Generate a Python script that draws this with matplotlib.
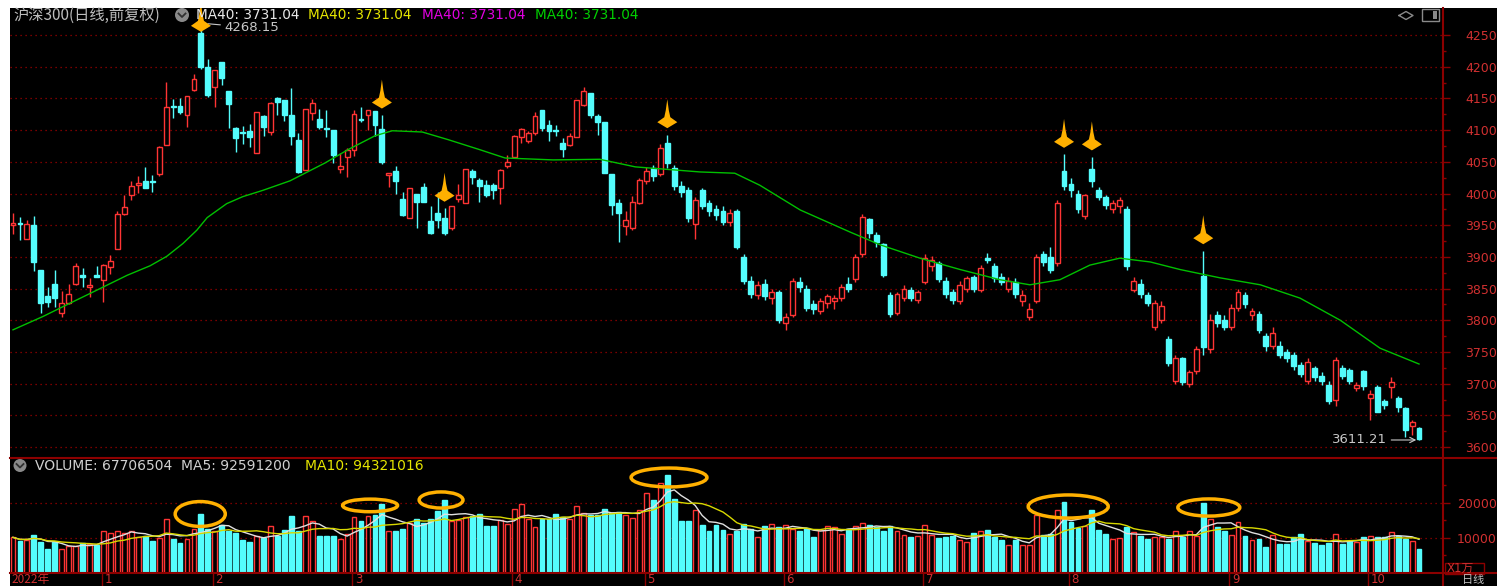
import numpy as np
import pandas as pd
import matplotlib
matplotlib.use('Agg')
import matplotlib.pyplot as plt
from matplotlib.patches import Polygon, Ellipse, Rectangle
from matplotlib.lines import Line2D
from matplotlib.ticker import FixedLocator

plt.rcParams['font.family'] = ['DejaVu Sans', 'Noto Sans CJK SC']

# daily candles, 2022-12 .. 2023-10 (o, h, l, c)
ohlc = [
    # Dec
    (3950, 3970, 3936, 3953), (3954, 3963, 3926, 3952), (3929, 3958, 3929, 3952), (3951, 3965, 3878, 3892),
    (3879, 3879, 3811, 3828), (3838, 3852, 3821, 3829), (3858, 3880, 3821, 3835), (3811, 3846, 3805, 3827),
    (3828, 3858, 3826, 3842), (3857, 3890, 3856, 3886), (3871, 3883, 3853, 3869), (3852, 3866, 3837, 3856),
    (3871, 3886, 3869, 3869),
    # Jan
    (3863, 3889, 3829, 3887), (3884, 3903, 3873, 3893), (3912, 3973, 3912, 3968), (3967, 3998, 3966, 3979),
    (3998, 4020, 3990, 4012), (4013, 4027, 4001, 4016), (4020, 4042, 4008, 4008), (4020, 4029, 4002, 4018),
    (4030, 4075, 4027, 4073), (4076, 4176, 4076, 4136), (4138, 4149, 4119, 4136), (4138, 4150, 4125, 4129),
    (4124, 4154, 4105, 4154), (4163, 4188, 4161, 4180), (4253, 4268.15, 4196, 4200), (4199, 4212, 4152, 4155),
    # Feb
    (4168, 4195, 4137, 4195), (4207, 4207, 4171, 4182), (4161, 4161, 4103, 4141), (4103, 4105, 4066, 4087),
    (4097, 4106, 4078, 4095), (4099, 4110, 4074, 4089), (4064, 4129, 4064, 4129), (4122, 4124, 4091, 4105),
    (4097, 4145, 4092, 4142), (4150, 4152, 4124, 4145), (4147, 4147, 4115, 4124), (4124, 4166, 4077, 4090),
    (4084, 4095, 4032, 4034), (4037, 4133, 4037, 4133), (4127, 4149, 4116, 4143), (4118, 4133, 4101, 4105),
    (4104, 4131, 4089, 4102), (4100, 4100, 4048, 4061), (4038, 4064, 4033, 4043), (4057, 4071, 4026, 4068),
    # Mar
    (4069, 4132, 4059, 4126), (4118, 4136, 4113, 4116), (4124, 4131, 4100, 4131), (4130, 4130, 4090, 4108),
    (4102, 4124, 4047, 4049), (4029, 4033, 4011, 4033), (4035, 4044, 4000, 4019), (3991, 4003, 3965, 3966),
    (3961, 4008, 3961, 4008), (4000, 4000, 3945, 3986), (4011, 4017, 3986, 3986), (3956, 3980, 3936, 3937),
    (3970, 4003, 3945, 3958), (3961, 3977, 3935, 3938), (3945, 3981, 3942, 3981), (3992, 4015, 3987, 3998),
    (3985, 4038, 3985, 4038), (4035, 4038, 4015, 4026), (4021, 4024, 3986, 4012), (4014, 4022, 3994, 3998),
    (4013, 4016, 3992, 4005), (4008, 4038, 3983, 4037), (4043, 4061, 4040, 4050),
    # Apr
    (4058, 4093, 4058, 4090), (4089, 4103, 4079, 4101), (4083, 4098, 4080, 4096), (4096, 4129, 4092, 4122),
    (4132, 4132, 4098, 4103), (4108, 4116, 4083, 4099), (4100, 4108, 4091, 4099), (4080, 4087, 4058, 4070),
    (4077, 4096, 4075, 4091), (4089, 4148, 4089, 4148), (4140, 4168, 4138, 4161), (4158, 4158, 4119, 4124),
    (4122, 4125, 4092, 4113), (4113, 4113, 4032, 4032), (4031, 4031, 3966, 3982), (3985, 3991, 3924, 3969),
    (3949, 3973, 3935, 3958), (3945, 3996, 3942, 3986), (3985, 4025, 3983, 4021),
    # May
    (4020, 4042, 4015, 4035), (4040, 4045, 4020, 4028), (4030, 4078, 4028, 4072), (4080, 4093, 4040, 4048),
    (4040, 4045, 4005, 4012), (4012, 4020, 3995, 4003), (4005, 4010, 3955, 3962), (3952, 3995, 3928, 3990),
    (4005, 4008, 3975, 3980), (3985, 3990, 3965, 3972), (3975, 3982, 3958, 3966), (3972, 3980, 3950, 3955),
    (3955, 3975, 3948, 3970), (3972, 3975, 3912, 3915), (3900, 3905, 3858, 3862), (3862, 3870, 3835, 3842),
    (3840, 3862, 3833, 3855), (3858, 3865, 3832, 3838), (3835, 3850, 3825, 3845), (3845, 3848, 3795, 3800),
    # Jun
    (3795, 3812, 3785, 3805), (3808, 3866, 3805, 3862), (3860, 3868, 3845, 3852), (3850, 3855, 3815, 3820),
    (3825, 3832, 3810, 3818), (3815, 3835, 3810, 3830), (3828, 3842, 3820, 3838), (3830, 3840, 3818, 3835),
    (3835, 3858, 3830, 3852), (3858, 3868, 3845, 3850), (3865, 3905, 3860, 3900), (3905, 3968, 3900, 3963),
    (3960, 3962, 3930, 3937), (3935, 3940, 3915, 3924), (3920, 3922, 3868, 3872), (3840, 3845, 3805, 3810),
    (3812, 3845, 3808, 3842), (3835, 3855, 3830, 3850), (3848, 3852, 3830, 3835), (3832, 3848, 3828, 3845),
    # Jul
    (3860, 3905, 3858, 3898), (3885, 3902, 3878, 3895), (3890, 3893, 3860, 3865), (3862, 3868, 3835, 3842),
    (3845, 3850, 3825, 3832), (3830, 3862, 3826, 3855), (3850, 3870, 3845, 3866), (3868, 3872, 3845, 3850),
    (3848, 3888, 3845, 3882), (3898, 3906, 3890, 3895), (3885, 3890, 3860, 3866), (3868, 3875, 3855, 3860),
    (3850, 3868, 3845, 3862), (3860, 3866, 3835, 3842), (3830, 3848, 3822, 3840), (3805, 3828, 3800, 3818),
    (3830, 3905, 3828, 3900), (3905, 3910, 3885, 3892), (3900, 3915, 3875, 3880), (3890, 3990, 3885, 3985),
    (4035, 4062, 4005, 4012),
    # Aug
    (4015, 4025, 3995, 4005), (4000, 4005, 3970, 3975), (3965, 4000, 3960, 3998), (4038, 4058, 4010, 4020),
    (4005, 4010, 3990, 3995), (3995, 3998, 3975, 3982), (3975, 3990, 3970, 3985), (3980, 3995, 3970, 3990),
    (3975, 3980, 3880, 3885), (3848, 3868, 3845, 3862), (3858, 3865, 3835, 3842), (3840, 3845, 3822, 3828),
    (3790, 3832, 3785, 3828), (3800, 3830, 3795, 3822), (3770, 3775, 3728, 3732), (3705, 3745, 3700, 3740),
    (3740, 3742, 3698, 3702), (3700, 3722, 3695, 3718), (3720, 3760, 3715, 3755), (3870, 3910, 3745, 3758),
    (3755, 3810, 3748, 3800), (3808, 3815, 3790, 3795), (3800, 3808, 3785, 3790),
    # Sep
    (3790, 3825, 3785, 3820), (3820, 3850, 3815, 3845), (3840, 3845, 3820, 3825), (3808, 3820, 3800, 3815),
    (3810, 3815, 3780, 3785), (3775, 3780, 3752, 3760), (3760, 3790, 3755, 3780), (3760, 3768, 3740, 3745),
    (3750, 3755, 3735, 3740), (3745, 3750, 3722, 3728), (3730, 3735, 3710, 3716), (3705, 3740, 3700, 3735),
    (3725, 3728, 3705, 3710), (3712, 3718, 3698, 3705), (3698, 3705, 3668, 3672), (3674, 3742, 3665, 3738),
    (3725, 3730, 3708, 3712), (3722, 3725, 3700, 3704), (3693, 3702, 3688, 3698), (3720, 3722, 3690, 3696),
    # Oct
    (3677, 3690, 3643, 3684), (3695, 3698, 3655, 3656), (3673, 3676, 3660, 3666), (3695, 3710, 3678, 3702),
    (3677, 3680, 3655, 3663), (3661, 3663, 3616, 3627), (3634, 3643, 3619, 3639), (3630, 3632, 3611.21, 3612),
]

# volume, unit = 1万
volume = [
    10180, 9030, 9510, 10940, 8750, 6860, 8750, 6860, 7600, 7800, 8570, 8290, 8090,
    11900, 11320, 12090, 11320, 12090, 10180, 10460, 9230, 10000, 15510, 9710, 8570, 9710, 12660, 16860, 12660,
    12090, 13800, 12090, 11320, 9510, 8860, 10660, 10000, 13310, 10660, 12370, 16170, 11890, 16370, 14740,
    10660, 10660, 10460, 9800, 11140,
    15880, 14940, 16370, 16660, 19710, 12090, 11890, 12660, 14290, 15510, 14290, 15510, 17800, 20940, 14740,
    15230, 16000, 16170, 16860, 13510, 13510, 15000, 14090,
    18370, 19700, 15430, 13140, 15510, 15510, 16860, 16000, 15510, 19030, 17140, 16660, 16660, 18370, 17140,
    17430, 16660, 15710, 18080,
    22860, 20940, 25710, 28090, 21140, 14740, 14740, 17880, 13800, 12090, 13800, 12180, 11140, 12090, 14000,
    12660, 10180, 13310, 14000, 13040,
    13600, 12660, 11890, 12860, 10180, 12370, 13510, 13040, 11230, 12660, 13310, 14290, 13800, 13110, 11890,
    13510, 12090, 10940, 10180, 10460,
    13600, 10940, 10000, 10180, 10460, 9510, 8860, 11320, 12090, 12370, 10180, 9510, 8090, 9510, 8090, 7900,
    16660, 10940, 11140, 18080, 20180,
    14470, 12860, 13310, 18080, 12370, 11230, 9710, 10000, 13040, 11710, 10660, 9710, 10180, 10370, 9710,
    12090, 10180, 12090, 10660, 20000, 15510, 13110, 12090,
    10940, 14470, 10660, 9510, 9710, 7430, 10940, 8290, 8290, 10180, 11140, 9030, 8570, 7900, 8570, 11230,
    8290, 9230, 8860, 10290,
    10460, 10180, 10290, 11710, 10660, 9800, 9230, 6771,
]

# MA40: (bar index, value)
ma40_idx = [0, 4.3, 8.2, 12.5, 16.4, 19.7, 22.1, 24.4, 26.4, 27.9, 30.7, 33, 35.9, 39.8, 44.8, 48.1, 52,
            54.5, 58.8, 62.5, 67.1, 70.7, 77.6, 84.3, 89.4, 98.7, 103.7, 107.3, 113.1, 120.3, 124.6, 130.3,
            136.1, 141.8, 146.1, 150.4, 154.7, 159, 163.4, 167.7, 173.4, 179.2, 184.9, 190.7, 196.4, 202]
ma40_val = [3785, 3806, 3827, 3850, 3871, 3886, 3901, 3921, 3942, 3962, 3984, 3995, 4005, 4020, 4048, 4069,
            4091, 4099, 4097, 4085, 4069, 4056, 4053, 4054, 4042, 4034, 4032, 4013, 3974, 3939, 3919, 3898,
            3880, 3864, 3856, 3864, 3887, 3898, 3892, 3880, 3867, 3856, 3835, 3800, 3756, 3731.04]

month_start = [13, 29, 49, 72, 91, 111, 131, 152, 175, 195]
month_labels = ['1', '2', '3', '4', '5', '6', '7', '8', '9', '10']

arrow_bars = [27, 53, 62, 94, 151, 155, 171]
# volume highlight: bar, dx, dy, width(bars), height(vol)
circle_marks = [(27, -0.1, 0, 7.2, 7100), (53, -1.7, -400, 7.9, 3600), (62, -0.5, -80, 6.3, 4600),
                (94, 0.25, -800, 10.9, 5400), (151, 0.6, -1180, 11.5, 6600), (171, 0.8, -1290, 8.9, 4900)]

W, H = 1497, 586
RED = '#ff3434'
CYAN = '#54fcfc'
AXRED = '#8c0000'
LBLRED = '#d03030'
ORANGE = '#ffb000'
CJK = ['Noto Sans CJK SC', 'DejaVu Sans']

o = np.array([r[0] for r in ohlc], float)
hi = np.array([r[1] for r in ohlc], float)
lo = np.array([r[2] for r in ohlc], float)
c = np.array([r[3] for r in ohlc], float)
vol = np.array(volume, float)
x = np.arange(len(c))
up = c >= o
cols = np.where(up, RED, CYAN)
faces = np.where(up, 'black', CYAN)

fig = plt.figure(figsize=(W / 100, H / 100), dpi=100, facecolor='white')
fig.add_artist(Rectangle((10 / W, 0), 1 - 10 / W, 1 - 8 / H, transform=fig.transFigure,
                         facecolor='black', edgecolor='none', zorder=-5))

ax = fig.add_axes([10 / W, (H - 458) / H, 1432 / W, 450 / H], facecolor='black')
axv = fig.add_axes([10 / W, (H - 573) / H, 1432 / W, 115 / H], facecolor='black')
for a in (ax, axv):
    a.set_xlim(-0.43, 205.3)
    for s in a.spines.values():
        s.set_visible(False)
ax.set_ylim(3582.8, 4292.6)
axv.set_ylim(0, 32857)

# candles
ax.vlines(x, lo, hi, colors=cols, lw=1, zorder=2)
ax.bar(x, np.maximum(np.abs(c - o), 0.8), bottom=np.minimum(o, c), width=0.7,
       color=faces, edgecolor=cols, linewidth=1, zorder=3)
ax.plot(ma40_idx, ma40_val, color='#00c000', lw=1, zorder=4)

ax.set_xticks([])
ax.yaxis.tick_right()
ax.yaxis.set_major_locator(FixedLocator(np.arange(3600, 4251, 50)))
ax.yaxis.set_minor_locator(FixedLocator(np.arange(3625, 4251, 50)))
ax.tick_params(axis='y', which='major', length=5.8, width=1, color=AXRED, labelcolor=LBLRED,
               labelsize=9, pad=11)
ax.tick_params(axis='y', which='minor', length=3, width=1, color=AXRED)
ax.yaxis.grid(True, which='major', linestyle=(0, (1, 3)), color='#a00000', lw=0.9)
ax.set_axisbelow(True)

# orange arrows above marked candles
shape = [(0, 29), (1.5, 18), (3, 11), (10, 6), (0, 0), (-10, 6), (-3, 11), (-1.5, 18)]
inv = fig.transFigure.inverted()
for b in arrow_bars:
    tip = ax.transData.transform((b, min(hi[b] + 10, 4255)))
    verts = inv.transform([(tip[0] + dx, tip[1] + dy) for dx, dy in shape])
    p = Polygon(verts, closed=True, facecolor=ORANGE, edgecolor='none', transform=fig.transFigure, zorder=6)
    ax.add_patch(p)

ax.annotate('4268.15', xy=(27.6, hi[27]), xytext=(14, -3), textcoords='offset points',
            color='#c8c8c8', fontsize=9.5, va='center', ha='left',
            arrowprops=dict(arrowstyle='-', color='#c8c8c8', lw=0.8, shrinkA=1, shrinkB=2))
ax.annotate('3611.21', xy=(201.6, lo[-1]), xytext=(-21, 0), textcoords='offset points',
            color='#c8c8c8', fontsize=9.5, va='center', ha='right',
            arrowprops=dict(arrowstyle='->', color='#c8c8c8', lw=0.8, shrinkA=1, shrinkB=0))

# volume
axv.bar(x, vol, width=0.7, color=faces, edgecolor=cols, linewidth=1, zorder=3)
ma5 = pd.Series(vol).rolling(5, min_periods=1).mean()
ma10 = pd.Series(vol).rolling(10, min_periods=1).mean()
axv.plot(x, ma5, color='#e0e0e0', lw=1, zorder=4)
axv.plot(x, ma10, color='#d8d800', lw=1, zorder=4)
for b, dx, dy, w, h in circle_marks:
    axv.add_patch(Ellipse((b + dx, vol[b] + dy), w, h, fill=False, edgecolor=ORANGE, lw=2.5,
                          zorder=6, clip_on=False))

axv.yaxis.tick_right()
axv.yaxis.set_major_locator(FixedLocator([10000, 20000]))
axv.yaxis.set_minor_locator(FixedLocator([5000, 15000, 25000]))
axv.tick_params(axis='y', which='major', length=5.8, width=1, color=AXRED, labelcolor=LBLRED,
                labelsize=9, pad=5)
axv.tick_params(axis='y', which='minor', length=3, width=1, color=AXRED)
axv.yaxis.grid(True, which='major', linestyle=(0, (1, 3)), color='#a00000', lw=0.9)
axv.set_axisbelow(True)

axv.set_xticks(np.array(month_start) - 0.26)
axv.tick_params(axis='x', length=9.4, width=1, color=AXRED, labelbottom=False)


def fx(px):
    return px / W


def fy(py):
    return 1 - py / H


tr = axv.get_xaxis_transform()
for m, lab in zip(month_start, month_labels):
    axv.text(m + 0.1, -(579.5 - 573) / 115, lab, transform=tr, color=LBLRED, fontsize=8.5,
             va='center', ha='left')
axv.text(-0.2, -(579.5 - 573) / 115, '2022年', transform=tr, color=LBLRED, fontsize=8.5,
         va='center', ha='left', family=CJK)

# frame lines
for yy in (458, 573):
    fig.add_artist(Line2D([fx(10), 1], [fy(yy), fy(yy)], color=AXRED, lw=1.5, transform=fig.transFigure))
fig.add_artist(Line2D([fx(1442.5), fx(1442.5)], [fy(8), 0], color=AXRED, lw=1.5, transform=fig.transFigure))
fig.add_artist(Rectangle((fx(1445), fy(574)), 39 / W, 11 / H, fill=False, edgecolor=AXRED, lw=1,
                         transform=fig.transFigure))
fig.text(fx(1447), fy(568.5), 'X1万', color=LBLRED, fontsize=8.5, va='center', ha='left',
         family=['DejaVu Sans', 'Noto Sans CJK SC'])
fig.text(fx(1462), fy(580), '日线', color='#c0c0c0', fontsize=8, va='center', ha='left', family=CJK)

# header
fig.text(fx(13), fy(15), '沪深300(日线,前复权)', color='#bdbdbd', fontsize=11, va='center', ha='left',
         family=CJK)
fig.add_artist(Ellipse((fx(182), fy(15)), 14 / W, 14 / H, facecolor='#8a8a8a', edgecolor='none',
                       transform=fig.transFigure))
fig.add_artist(Line2D([fx(178.5), fx(182), fx(185.5)], [fy(13.5), fy(17), fy(13.5)], color='#303030',
                      lw=1.3, transform=fig.transFigure))
for px, col in [(196, '#e8e8e8'), (308, '#e6e600'), (422, '#e000e0'), (535, '#00d000')]:
    fig.text(fx(px), fy(15), 'MA40: 3731.04', color=col, fontsize=9.8, va='center', ha='left')

# top right icons
fig.add_artist(Line2D([fx(1399), fx(1406), fx(1413), fx(1406), fx(1399)],
                      [fy(15.5), fy(11.5), fy(15.5), fy(19.5), fy(15.5)], color='#8a8a8a', lw=1,
                      transform=fig.transFigure))
fig.add_artist(Rectangle((fx(1422), fy(21)), 17 / W, 12 / H, fill=False, edgecolor='#8a8a8a', lw=1,
                         transform=fig.transFigure))
fig.add_artist(Rectangle((fx(1433), fy(19)), 4 / W, 8 / H, facecolor='#8a8a8a', edgecolor='none',
                         transform=fig.transFigure))

# volume header
fig.add_artist(Ellipse((fx(20), fy(465.5)), 13 / W, 13 / H, facecolor='#8a8a8a', edgecolor='none',
                       transform=fig.transFigure))
fig.add_artist(Line2D([fx(16.5), fx(20), fx(23.5)], [fy(464), fy(467.5), fy(464)], color='#303030',
                      lw=1.3, transform=fig.transFigure))
fig.text(fx(35), fy(465.5), 'VOLUME: 67706504  MA5: 92591200', color='#d0d0d0', fontsize=10,
         va='center', ha='left')
fig.text(fx(305), fy(465.5), 'MA10: 94321016', color='#e6e600', fontsize=10, va='center', ha='left')

fig.savefig('out.png', dpi=100, facecolor=fig.get_facecolor())
